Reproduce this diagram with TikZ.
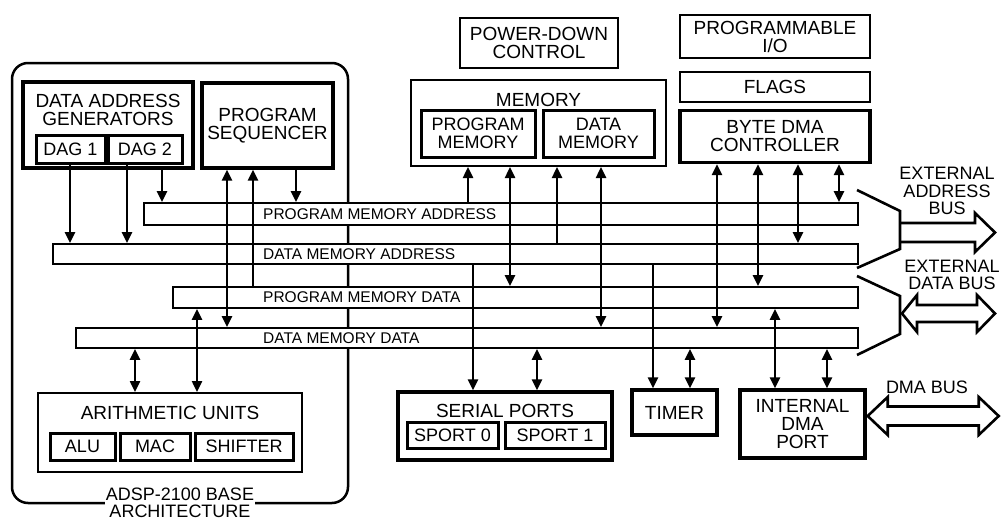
\documentclass[tikz,border=0pt]{standalone}
\usepackage{fontspec}
\setmainfont{Liberation Sans}
\usetikzlibrary{arrows.meta}

\begin{document}
\begin{tikzpicture}[x=1pt,y=-1pt,
    box/.style={draw,line width=2pt,align=center,inner sep=0pt,font=\fontsize{19}{18}\selectfont},
    heavy/.style={box,line width=3.4pt},
    subbox/.style={box,line width=3pt,font=\fontsize{18}{18}\selectfont},
    title/.style={label={[font=\fontsize{19}{18}\selectfont,align=center,inner sep=0pt,anchor=north,yshift=-14pt]north:#1}},
    bus/.style={draw,line width=1.8pt,fill=white,anchor=west,inner sep=0pt},
    buslbl/.style={anchor=west,inner sep=0pt,font=\fontsize{15.5}{16}\selectfont},
    wire/.style={line width=2.4pt},
    fat/.style={line width=2.6pt,line join=miter},
    >={Triangle[length=11pt,width=10pt]}]
            \useasboundingbox (0,0) rectangle (1005,522);

            % base architecture
            \node[draw,line width=2.5pt,rounded corners=16pt,minimum width=336pt,minimum height=440pt] at (180,283) (arch) {};
            \node[fill=white,align=center,inner sep=1pt,font=\fontsize{18}{17}\selectfont] at ([yshift=1.5pt]arch.south) (archlbl) {ADSP-2100 BASE\\ARCHITECTURE};

            \node[heavy,minimum width=170pt,minimum height=86pt,title={DATA ADDRESS\\GENERATORS}] at (108,125) (dag) {};
            \node[subbox,minimum width=69pt,minimum height=28pt] at (70.5,149) (dag1) {DAG 1};
            \node[subbox,minimum width=74pt,minimum height=28pt] at (145,149) (dag2) {DAG 2};
            \node[heavy,minimum width=131pt,minimum height=85pt] at (267.5,125.5) (seq) {PROGRAM\\SEQUENCER};

            \node[box,minimum width=264pt,minimum height=79pt,title={ARITHMETIC UNITS}] at (170,432.5) (arith) {};
            \node[subbox,minimum width=65pt,minimum height=27pt] at (82.5,446.5) (alu) {ALU};
            \node[subbox,minimum width=70pt,minimum height=27pt] at (155,446.5) (mac) {MAC};
            \node[subbox,minimum width=98pt,minimum height=27pt] at (244,446.5) (shifter) {SHIFTER};

            % memory and peripherals
            \node[box,minimum width=158pt,minimum height=50pt] at (539,43) (pwr) {POWER-DOWN\\CONTROL};
            \node[box,minimum width=255pt,minimum height=86pt,title=MEMORY] at (538.5,123) (mem) {};
            \node[subbox,minimum width=114pt,minimum height=47pt] at (478,133.5) (pm) {PROGRAM\\MEMORY};
            \node[subbox,minimum width=111pt,minimum height=47pt] at (598.5,133.5) (dm) {DATA\\MEMORY};

            \node[box,minimum width=190pt,minimum height=43pt] at (775,36.5) (pio) {PROGRAMMABLE\\I/O};
            \node[box,minimum width=190pt,minimum height=30pt] at (775,87) (flags) {FLAGS};
            \node[heavy,minimum width=190pt,minimum height=52pt] at (775,136.5) (bdma) {BYTE DMA\\CONTROLLER};

            \node[heavy,minimum width=214pt,minimum height=68pt,title={SERIAL PORTS}] at (505,426) (ser) {};
            \node[subbox,minimum width=91pt,minimum height=26pt] at (452.5,435) (sport0) {SPORT 0};
            \node[subbox,minimum width=100pt,minimum height=26pt] at (555,435) (sport1) {SPORT 1};
            \node[heavy,minimum width=85pt,minimum height=45pt] at (674.5,412.5) (timer) {TIMER};
            \node[heavy,minimum width=125pt,minimum height=68pt] at (802.5,424) (idma) {INTERNAL\\DMA\\PORT};

            % buses
            \node[bus,minimum width=714pt,minimum height=22pt] at (143,214) (pma) {};
            \node[bus,minimum width=805pt,minimum height=20pt] at (52,254) (dma) {};
            \node[bus,minimum width=685pt,minimum height=21pt] at (172,297.5) (pmd) {};
            \node[bus,minimum width=782pt,minimum height=20pt] at (75,338) (dmd) {};
            \node[buslbl] at (263,214) (pmalbl) {PROGRAM MEMORY ADDRESS};
            \node[buslbl] at (263,254) (dmalbl) {DATA MEMORY ADDRESS};
            \node[buslbl] at (263,297.5) (pmdlbl) {PROGRAM MEMORY DATA};
            \node[buslbl] at (263,338) (dmdlbl) {DATA MEMORY DATA};

            % connections
            \draw[wire,->] (dag1.south -| 70,0) -- (dma.north -| 70,0);
            \draw[wire,->] (dag2.south -| 127,0) -- (dma.north -| 127,0);
            \draw[wire,->] (dag.south -| 162,0) -- (pma.north -| 162,0);
            \draw[wire,<->] (seq.south -| 227,0) -- (dmd.north -| 227,0);
            \draw[wire,<-] (seq.south -| 253,0) -- (pmd.north -| 253,0);
            \draw[wire,->] (seq.south -| 296,0) -- (pma.north -| 296,0);
            \draw[wire,<->] (dmd.south -| 135,0) -- (arith.north -| 135,0);
            \draw[wire,<->] (pmd.south -| 197,0) -- (arith.north -| 197,0);
            \draw[wire,<-] (mem.south -| 468,0) -- (pma.north -| 468,0);
            \draw[wire,<->] (mem.south -| 510,0) -- (pmd.north -| 510,0);
            \draw[wire,<-] (mem.south -| 557,0) -- (dma.north -| 557,0);
            \draw[wire,<->] (mem.south -| 601,0) -- (dmd.north -| 601,0);
            \draw[wire,<->] (bdma.south -| 717,0) -- (dmd.north -| 717,0);
            \draw[wire,<->] (bdma.south -| 758,0) -- (pmd.north -| 758,0);
            \draw[wire,<->] (bdma.south -| 798,0) -- (dma.north -| 798,0);
            \draw[wire,<->] (bdma.south -| 839,0) -- (pma.north -| 839,0);
            \draw[wire,->] (dma.south -| 473,0) -- (ser.north -| 473,0);
            \draw[wire,<->] (dmd.south -| 537,0) -- (ser.north -| 537,0);
            \draw[wire,->] (dma.south -| 653,0) -- (timer.north -| 653,0);
            \draw[wire,<->] (dmd.south -| 690,0) -- (timer.north -| 690,0);
            \draw[wire,<->] (pmd.south -| 775,0) -- (idma.north -| 775,0);
            \draw[wire,<->] (dmd.south -| 827,0) -- (idma.north -| 827,0);

            % external buses
            \coordinate (amux) at (900,232.5);
            \coordinate (dmux) at (900,313.5);
            \draw[fat] (857,190) -- (900,211) -- (amux) -- (900,249) -- (857,268);
            \draw[fat] (857,276) -- (900,296) -- (dmux) -- (900,334) -- (857,355);
            \draw[fat] (amux) ++(0,-9.5) -- ++(75,0) -- ++(0,-10) -- ++(20,19.5) -- ++(-20,19.5) -- ++(0,-10) -- ++(-75,0);
            \draw[fat] (dmux) ++(2,0) -- ++(15,-18.5) -- ++(0,10) -- ++(60,0) -- ++(0,-10) -- ++(18,18.5) -- ++(-18,18.5) -- ++(0,-10) -- ++(-60,0) -- ++(0,10) -- cycle;
            \draw[fat] ([yshift=8pt]idma.east) ++(1,0) -- ++(20,-19) -- ++(0,9.5) -- ++(91,0) -- ++(0,-9.5) -- ++(20,19) -- ++(-20,19) -- ++(0,-9.5) -- ++(-91,0) -- ++(0,9.5) -- cycle;
            \node[align=center,font=\fontsize{18}{17.5}\selectfont] at (947,191) (extaddr) {EXTERNAL\\ADDRESS\\BUS};
            \node[align=center,font=\fontsize{18}{16.5}\selectfont] at (952,275) (extdata) {EXTERNAL\\DATA BUS};
            \node[font=\fontsize{18}{18}\selectfont] at (927,387) (dmabus) {DMA BUS};
        \end{tikzpicture}
\end{document}
